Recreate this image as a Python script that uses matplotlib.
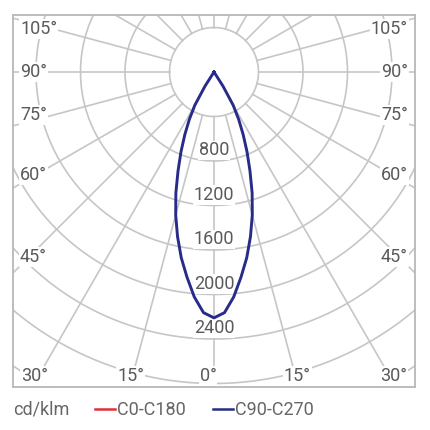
import numpy as np
import matplotlib
matplotlib.use("Agg")
import matplotlib.pyplot as plt
from matplotlib.lines import Line2D

plt.rcParams['font.family'] = ['Roboto', 'DejaVu Sans']

# luminous intensity, cd/klm, vs gamma angle (0 = straight down)
gamma = [0, 2.5, 5, 7.5, 10, 12.5, 15, 17.5, 20, 22.5, 25, 27.5, 30, 32.5, 35, 40, 90]
c0_c180 = [2210, 2165, 2030, 1860, 1695, 1515, 1330, 1140, 945, 775, 620, 480, 345, 150, 0, 0, 0]
c90_c270 = [2210, 2165, 2030, 1860, 1695, 1515, 1330, 1140, 945, 775, 620, 480, 345, 150, 0, 0, 0]

ring_values = [800, 1200, 1600, 2000, 2400]
side_angles = [105, 90, 75, 60, 45]
bottom_angles = [-30, -15, 0, 15, 30]
series_names = ["C0-C180", "C90-C270"]
series_colors = ["#e0303a", "#282c88"]

PX = 400 / 44.5  # cd/klm per pixel
XLIM = 201 * PX
YTOP = 57 * PX
YBOT = -315 * PX

GRID = "#c6c6c6"
TXT = "#5a5a5a"
FS = 13

fig = plt.figure(figsize=(4.3, 4.3), dpi=100)
ax = fig.add_axes([13 / 430, 43 / 430, 402 / 430, 372 / 430])
ax.set_xlim(-XLIM, XLIM)
ax.set_ylim(YBOT, YTOP)
ax.set_xticks([])
ax.set_yticks([])
for sp in ax.spines.values():
    sp.set_color("#b8b8b8")
    sp.set_linewidth(1.3)

# rings and rays
t = np.linspace(0, 2 * np.pi, 400)
for r in range(400, 4400, 400):
    ax.plot(r * np.sin(t), -r * np.cos(t), color=GRID, lw=1.2, zorder=1)
for a in range(0, 360, 15):
    ar = np.radians(a)
    ax.plot([400 * np.sin(ar), 5000 * np.sin(ar)], [-400 * np.cos(ar), -5000 * np.cos(ar)],
            color=GRID, lw=1.2, zorder=1)

box = dict(boxstyle="square,pad=0.05", fc="white", ec="none")

for r in ring_values:
    ax.text(0, -(r - 95), str(r), ha="center", va="center", fontsize=FS, color=TXT,
            bbox=box, zorder=2)

# angle labels on the left and right edges
for a in side_angles:
    d = XLIM - 7 * PX
    y = -d / np.tan(np.radians(a)) if a != 90 else 0
    va = "bottom" if a < 90 else ("center" if a == 90 else "top")
    for sgn, ha in [(-1, "left"), (1, "right")]:
        ax.text(sgn * d, y, f"{a}°", ha=ha, va=va, fontsize=FS, color=TXT,
                bbox=box, zorder=2)

# angle labels along the bottom
for a in bottom_angles:
    y = YBOT + 4 * PX
    x = -y * np.tan(np.radians(a))
    if a == 0:
        x -= 6 * PX
    ax.text(x, YBOT + 2 * PX, f"{abs(a)}°", ha="center", va="bottom", fontsize=FS,
            color=TXT, bbox=box, zorder=2)

# photometric curves, mirrored about the vertical axis (C0-C180 sits under C90-C270)
g = np.radians(gamma)
for vals, col, lw in zip([c0_c180, c90_c270], series_colors, [1.0, 2.1]):
    v = np.array(vals)
    x = np.concatenate([-(v * np.sin(g))[::-1], v * np.sin(g)])
    y = np.concatenate([-(v * np.cos(g))[::-1], -v * np.cos(g)])
    ax.plot(x, y, color=col, lw=lw, zorder=3, solid_joinstyle="round")

# legend row
ly = 1 - 410 / 430
fig.text(13 / 430, ly, "cd/klm", ha="left", va="center", fontsize=FS, color="#666666")
for (x0, x1), name, col in zip([(95, 115), (213, 233)], series_names, series_colors):
    fig.add_artist(Line2D([x0 / 430, x1 / 430], [ly + 0.002, ly + 0.002], color=col, lw=1.8))
    fig.text((x1 + 2) / 430, ly, name, ha="left", va="center", fontsize=FS, color="#666666")

fig.savefig("out.png", dpi=100, facecolor="white")
